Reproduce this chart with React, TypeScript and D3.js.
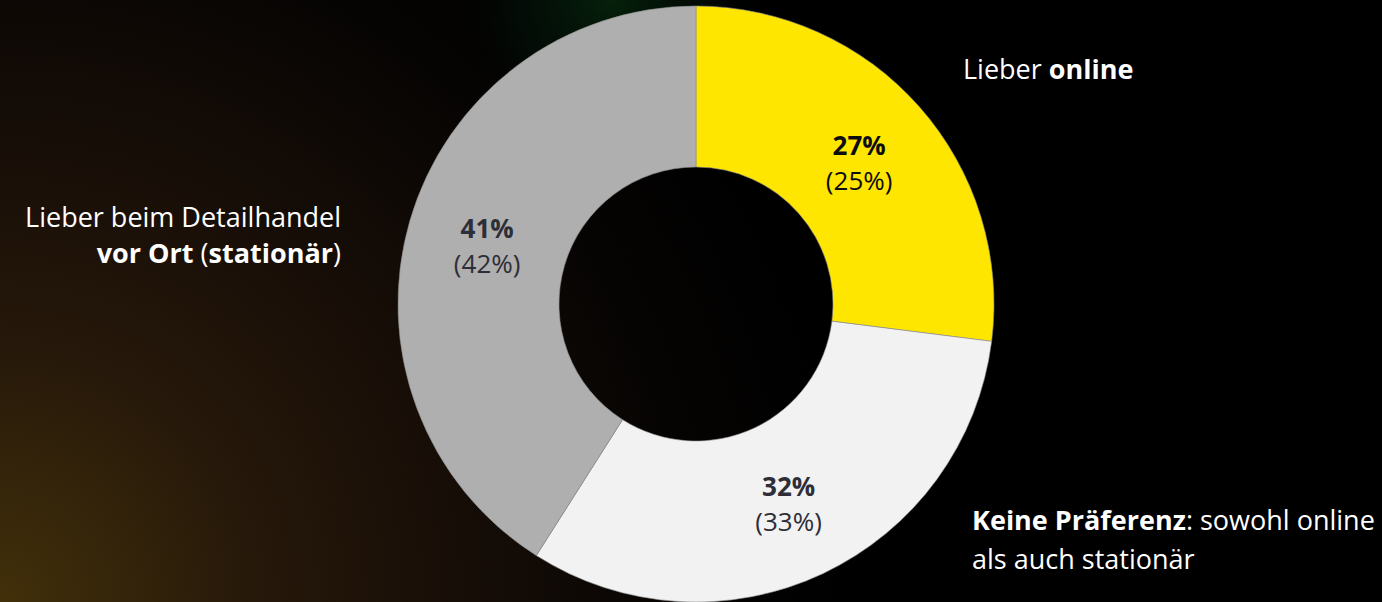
import React from "react";
import * as d3 from "d3";

const categories = ["Lieber online", "Keine Präferenz", "Lieber vor Ort"];
const currentValues = [27, 32, 41];
const previousValues = [25, 33, 42];
const sliceColors = ["#FFE600", "#F2F2F2", "#AFAFAF"];
const labelColors = ["#0d0d10", "#2E2E38", "#2E2E38"];

const W = 1382;
const H = 602;
const FONT = "'Open Sans', 'Noto Sans', sans-serif";

export default function App() {
  const cx = 696;
  const cy = 304;
  const outerR = 298;
  const innerR = 137;

  const pie = d3
    .pie<number>()
    .sort(null)
    .value((d) => d)
    .startAngle(0)
    .endAngle(2 * Math.PI);
  const arcs = pie(currentValues);
  const arcGen = d3.arc<d3.PieArcDatum<number>>().innerRadius(innerR).outerRadius(outerR);

  const fs = 27;
  const fsVal = 26;

  return (
    <svg
      width={W}
      height={H}
      style={{ position: "fixed", left: 0, top: 0, display: "block" }}
      fontFamily={FONT}
    >
      <defs>
        <radialGradient id="warm" gradientUnits="userSpaceOnUse" cx={0} cy={H} r={860}>
          <stop offset="0" stopColor="#42300a" />
          <stop offset="0.3" stopColor="#26180a" />
          <stop offset="0.55" stopColor="#160d07" />
          <stop offset="0.8" stopColor="#060403" />
          <stop offset="1" stopColor="#000000" />
        </radialGradient>
        <radialGradient id="green" gradientUnits="userSpaceOnUse" cx={610} cy={0} r={160}>
          <stop offset="0" stopColor="#06240c" stopOpacity={0.9} />
          <stop offset="0.6" stopColor="#03140a" stopOpacity={0.5} />
          <stop offset="1" stopColor="#000000" stopOpacity={0} />
        </radialGradient>
      </defs>
      <rect x={0} y={0} width={W} height={H} fill="#000" />
      <rect x={0} y={0} width={W} height={H} fill="url(#warm)" />
      <rect x={0} y={0} width={W} height={H} fill="url(#green)" />

      <g transform={`translate(${cx},${cy})`}>
        {arcs.map((a, i) => (
          <path
            key={categories[i]}
            d={arcGen(a) || ""}
            fill={sliceColors[i]}
            stroke="#8c8c8c"
            strokeWidth={0.6}
          />
        ))}
        {arcs.map((a, i) => {
          const [x, y] = arcGen.centroid(a);
          return (
            <g key={"l" + i} fill={labelColors[i]} textAnchor="middle" fontSize={fsVal}>
              <text x={x} y={y - 5} fontWeight="bold">
                {currentValues[i]}%
              </text>
              <text x={x} y={y + 30}>
                ({previousValues[i]}%)
              </text>
            </g>
          );
        })}
      </g>

      <g fill="#ffffff" fontSize={fs}>
        <text x={963} y={79}>
          Lieber <tspan fontWeight="bold">online</tspan>
        </text>
        <text x={341} y={227} textAnchor="end">
          Lieber beim Detailhandel
        </text>
        <text x={341} y={263} textAnchor="end">
          <tspan fontWeight="bold">vor Ort</tspan> (<tspan fontWeight="bold">stationär</tspan>)
        </text>
        <text x={972} y={530}>
          <tspan fontWeight="bold">Keine Präferenz</tspan>: sowohl online
        </text>
        <text x={972} y={569}>
          als auch stationär
        </text>
      </g>
    </svg>
  );
}
